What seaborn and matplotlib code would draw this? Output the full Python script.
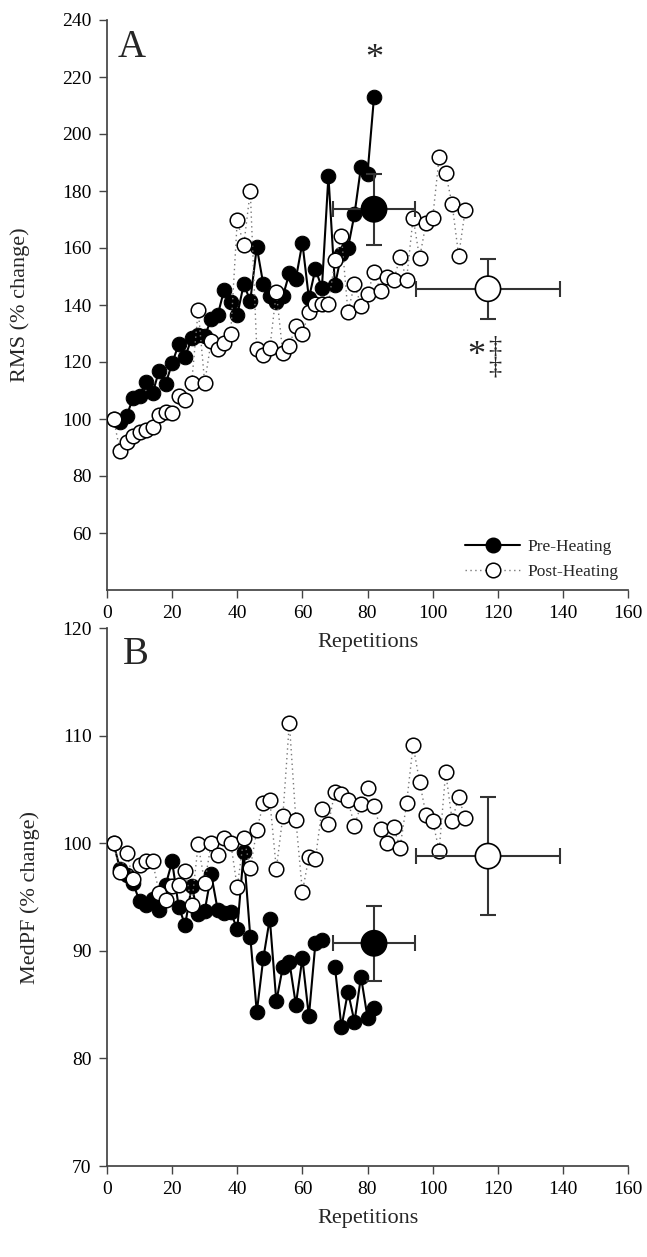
import numpy as np
import pandas as pd
import matplotlib
matplotlib.use("Agg")
import matplotlib.pyplot as plt
from matplotlib.lines import Line2D
import seaborn as sns

# ---------------- data ----------------
reps_pre = list(range(2, 84, 2))     # 2..82
reps_post = list(range(2, 112, 2))   # 2..110

rms_pre = [100.0, 99.0, 101.0, 107.4, 108.1, 113.0, 109.0, 117.0, 112.4, 119.5,
           126.2, 121.8, 128.3, 129.5, 129.0, 135.0, 136.5, 145.4, 141.2, 136.5,
           147.3, 141.5, 160.3, 147.3, 143.0, 141.0, 143.0, 151.2, 149.2, 161.8,
           142.4, 152.6, 146.0, 185.3, 146.9, 157.9, 160.0, 171.8, 188.5, 186.0,
           213.0]
rms_post = [100.0, 88.9, 91.8, 94.2, 95.4, 96.0, 97.1, 101.5, 102.4, 102.2,
            108.0, 106.8, 112.7, 138.3, 112.7, 127.4, 124.5, 126.5, 130.0, 169.7,
            161.0, 180.0, 124.5, 122.6, 124.8, 144.5, 123.0, 125.7, 132.8, 129.7,
            137.7, 140.3, 140.3, 140.3, 155.7, 164.2, 137.5, 147.3, 139.8, 143.8,
            151.6, 145.0, 150.0, 148.6, 156.8, 148.9, 170.6, 156.5, 168.9, 170.4,
            191.8, 186.3, 175.3, 157.3, 173.3]

mpf_pre = [100.0, 97.6, 97.0, 96.3, 94.6, 94.3, 94.8, 93.8, 96.1, 98.3,
           94.1, 92.4, 96.0, 93.4, 93.7, 97.1, 93.8, 93.5, 93.6, 92.0,
           99.2, 91.3, 84.3, 89.3, 93.0, 85.3, 88.5, 89.0, 85.0, 89.3,
           83.9, 90.7, 91.0, np.nan, 88.5, 82.9, 86.2, 83.4, 87.6, 83.8,
           84.7]
mpf_post = [100.0, 97.3, 99.1, 96.7, 98.0, 98.3, 98.3, 95.4, 94.7, 96.0,
            96.1, 97.4, 94.3, 99.9, 96.3, 100.0, 98.9, 100.5, 100.0, 95.9,
            100.5, 97.7, 101.2, 103.7, 104.0, 97.6, 102.5, 111.2, 102.2, 95.5,
            98.7, 98.5, 103.2, 101.8, 104.8, 104.6, 104.0, 101.6, 103.6, 105.1,
            103.5, 101.3, 100.0, 101.5, 99.6, 103.7, 109.1, 105.7, 102.6, 102.1,
            99.3, 106.6, 102.1, 104.3, 102.3]

# group means (x = mean repetitions, y = mean % change) with SDs
rms_mean_x = [82, 117]
rms_mean_y = [173.6, 145.7]
rms_mean_xerr = [12.5, 22.0]
rms_mean_yerr = [12.5, 10.6]

mpf_mean_x = [82, 117]
mpf_mean_y = [90.7, 98.8]
mpf_mean_xerr = [12.6, 22.0]
mpf_mean_yerr = [3.5, 5.5]

series_labels = ["Pre-Heating", "Post-Heating"]

# ---------------- style ----------------
sns.set_theme(style="ticks")
plt.rcParams["font.family"] = ["Liberation Serif", "DejaVu Serif"]
plt.rcParams["axes.edgecolor"] = "#444444"
plt.rcParams["xtick.color"] = "#444444"
plt.rcParams["ytick.color"] = "#444444"
plt.rcParams["xtick.labelcolor"] = "black"
plt.rcParams["ytick.labelcolor"] = "black"

W, H = 647, 1257
fig = plt.figure(figsize=(W / 100, H / 100), dpi=100)
axA = fig.add_axes([107 / W, 1 - 590 / H, 521 / W, 570 / H])
axB = fig.add_axes([107 / W, 1 - 1166 / H, 521 / W, 538 / H])
axB.patch.set_visible(False)


def seg_ids(vals):
    seg, out = 0, []
    for v in vals:
        if pd.isna(v):
            seg += 1
        out.append(seg)
    return out


def draw_panel(ax, pre, post, mx, my, mxe, mye):
    df_pre = pd.DataFrame({"rep": reps_pre, "val": pre, "seg": seg_ids(pre)}).dropna()
    df_post = pd.DataFrame({"rep": reps_post, "val": post, "seg": seg_ids(post)}).dropna()
    sns.lineplot(data=df_pre, x="rep", y="val", units="seg", estimator=None,
                 sort=False, color="black", lw=1.5, marker="o", markersize=10.5,
                 markerfacecolor="black", markeredgecolor="black",
                 ax=ax, legend=False, zorder=2)
    sns.lineplot(data=df_post, x="rep", y="val", units="seg", estimator=None,
                 sort=False, color="#777777", lw=1.0, linestyle=(0, (1, 2.5)),
                 marker="o", markersize=10.5, markerfacecolor="white",
                 markeredgecolor="black", markeredgewidth=1.1,
                 ax=ax, legend=False, zorder=3)
    ax.errorbar(mx, my, xerr=mxe, yerr=mye, fmt="none", ecolor="#333333",
                elinewidth=1.5, capsize=5.5, capthick=1.5, zorder=4)
    dfm = pd.DataFrame({"x": mx, "y": my, "g": series_labels})
    sns.scatterplot(data=dfm, x="x", y="y", hue="g",
                    palette={"Pre-Heating": "black", "Post-Heating": "white"},
                    s=330, edgecolor="black", linewidth=1.2, ax=ax,
                    legend=False, zorder=5)
    ax.set_xlim(0, 160)
    ax.set_xticks(range(0, 161, 20))
    sns.despine(ax=ax)
    ax.tick_params(axis="both", direction="out", length=6, width=1.0,
                   labelsize=14, pad=5)
    ax.set_xlabel("Repetitions", fontsize=16, labelpad=8)


draw_panel(axA, rms_pre, rms_post, rms_mean_x, rms_mean_y, rms_mean_xerr, rms_mean_yerr)
axA.set_ylim(40, 240)
axA.set_yticks(range(60, 241, 20))
axA.set_ylabel("RMS (% change)", fontsize=16)
axA.yaxis.set_label_coords(-0.148, 0.5)
axA.text(0.02, 0.985, "A", transform=axA.transAxes, fontsize=28, va="top", ha="left")
axA.text(82, 226, "*", fontsize=26, ha="center", va="center")
axA.text(113.3, 122, "*", fontsize=26, ha="center", va="center")
axA.text(119.2, 125.5, "\u2021", fontsize=19, ha="center", va="center")
axA.text(119.2, 118.0, "\u2021", fontsize=19, ha="center", va="center")

handles = [
    Line2D([], [], color="black", lw=1.5, marker="o", markersize=10.5,
           markerfacecolor="black", markeredgecolor="black"),
    Line2D([], [], color="#777777", lw=1.0, linestyle=(0, (1, 2.5)), marker="o",
           markersize=10.5, markerfacecolor="white", markeredgecolor="black",
           markeredgewidth=1.1),
]
axA.legend(handles, series_labels, loc="lower right", bbox_to_anchor=(1.0, 0.0),
           frameon=False, fontsize=12.5, handlelength=3.2, handletextpad=0.4,
           labelspacing=0.55, borderaxespad=0.15)

draw_panel(axB, mpf_pre, mpf_post, mpf_mean_x, mpf_mean_y, mpf_mean_xerr, mpf_mean_yerr)
axB.set_ylim(70, 120)
axB.set_yticks(range(70, 121, 10))
axB.set_ylabel("MedPF (% change)", fontsize=16)
axB.yaxis.set_label_coords(-0.128, 0.5)
axB.text(0.03, 0.985, "B", transform=axB.transAxes, fontsize=28, va="top", ha="left")

fig.savefig("out.png", dpi=100)
